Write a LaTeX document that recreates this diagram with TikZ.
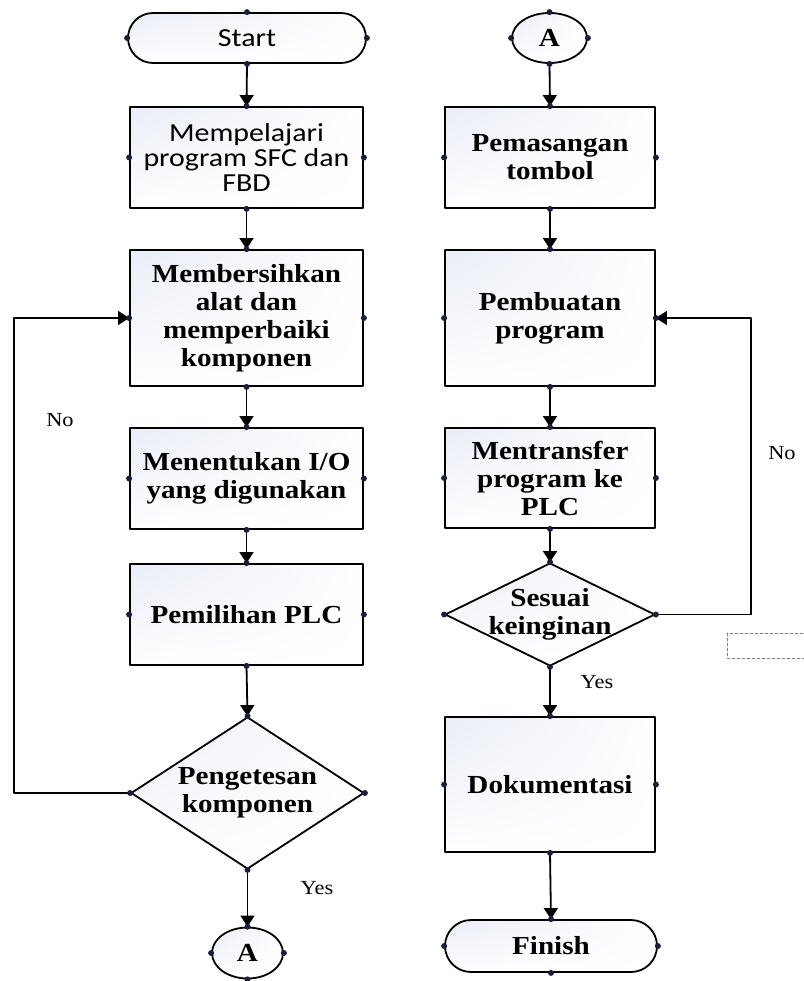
\documentclass[tikz,border=0pt]{standalone}
\usepackage{fontspec}
\setmainfont{Liberation Serif}[FakeStretch=1.12]
\newfontfamily\calfont{Carlito}[FakeStretch=1.15]
\usetikzlibrary{shapes.geometric,shapes.misc,arrows.meta,shadings}
\definecolor{dotc}{HTML}{1B1E3A}
\definecolor{shadec}{HTML}{E9EDF6}
\begin{document}
\begin{tikzpicture}[x=1pt,y=-1pt,line cap=round,line join=round,>={Triangle[width=14pt,length=11pt]},
		every node/.style={font=\bfseries\fontsize{26}{28}\selectfont,align=center},
		shapebox/.style={draw,line width=1.8pt,inner sep=0pt,upper left=shadec,upper right=white!97!shadec,lower left=white!97!shadec,lower right=white},
		procbox/.style={shapebox,rectangle,minimum height=101pt},
		termbox/.style={shapebox,rounded rectangle,minimum height=50pt},
		decbox/.style={shapebox,diamond,aspect=2,inner sep=-6pt},
		linkbox/.style={shapebox,ellipse,minimum height=51pt},
		flow/.style={->,line width=1.8pt},
		lbl/.style={font=\fontsize{20}{22}\selectfont}]
	\useasboundingbox (0,0) rectangle (803,981);
	\node[termbox,minimum width=238pt,font=\calfont\fontsize{26}{26}\selectfont] (start) at (247,38) {Start};
	\node[procbox,minimum width=233pt,font=\calfont\fontsize{26}{25}\selectfont] (b1) at (246.5,157.5) {Mempelajari\\program SFC dan\\FBD};
	\node[procbox,minimum width=233pt,minimum height=136pt] (b2) at (246.5,318) {Membersihkan\\alat dan\\memperbaiki\\komponen};
	\node[procbox,minimum width=233pt] (b3) at (246.5,478.5) {Menentukan I/O\\yang digunakan};
	\node[procbox,minimum width=233pt] (b4) at (246.5,614.5) {Pemilihan PLC};
	\node[decbox,minimum width=233pt,minimum height=152pt] (d1) at (247.5,793) {Pengetesan\\komponen};
	\node[linkbox,minimum width=71pt] (a1) at (247.5,953) {A};
	\node[linkbox,minimum width=75pt,minimum height=50pt] (a2) at (549.5,38) {A};
	\node[procbox,minimum width=210pt] (b5) at (550,157.5) {Pemasangan\\tombol};
	\node[procbox,minimum width=210pt,minimum height=136pt] (b6) at (550,318) {Pembuatan\\program};
	\node[procbox,minimum width=210pt,minimum height=100pt] (b7) at (550,478) {Mentransfer\\program ke\\PLC};
	\node[decbox,minimum width=210pt,minimum height=103pt] (d2) at (550,614.5) {Sesuai\\keinginan};
	\node[procbox,minimum width=210pt,minimum height=135pt] (b8) at (550,784.5) {Dokumentasi};
	\node[termbox,minimum width=212pt,minimum height=52pt] (finish) at (551,946) {Finish};
	\node[lbl] (no1) at (60,420) {No};
	\node[lbl] (yes1) at (317,888) {Yes};
	\node[lbl] (no2) at (782,453) {No};
	\node[lbl] (yes2) at (597,682) {Yes};
	\draw[flow] (start.south) -- (b1.north);
	\draw[flow] (b1.south) -- (b2.north);
	\draw[flow] (b2.south) -- (b3.north);
	\draw[flow] (b3.south) -- (b4.north);
	\draw[flow] (b4.south) -- (d1.north);
	\draw[flow] (d1.south) -- (a1.north);
	\draw[flow] (d1.west) -- ++(-116,0) |- (b2.west);
	\draw[flow] (a2.south) -- (b5.north);
	\draw[flow] (b5.south) -- (b6.north);
	\draw[flow] (b6.south) -- (b7.north);
	\draw[flow] (b7.south) -- (d2.north);
	\draw[flow] (d2.south) -- (b8.north);
	\draw[flow] (b8.south) -- (finish.north);
	\draw[flow] (d2.east) -- ++(95,0) |- (b6.east);
	\foreach \n in {start,b1,b2,b3,b4,d1,a1,a2,b5,b6,b7,d2,b8,finish}
	\foreach \a in {north,south,east,west}
	\fill[dotc] (\n.\a) circle (3pt);
	\draw[gray,line width=0.7pt,dash pattern=on 3pt off 2pt] (727,633) rectangle (830,658);
\end{tikzpicture}
\end{document}
